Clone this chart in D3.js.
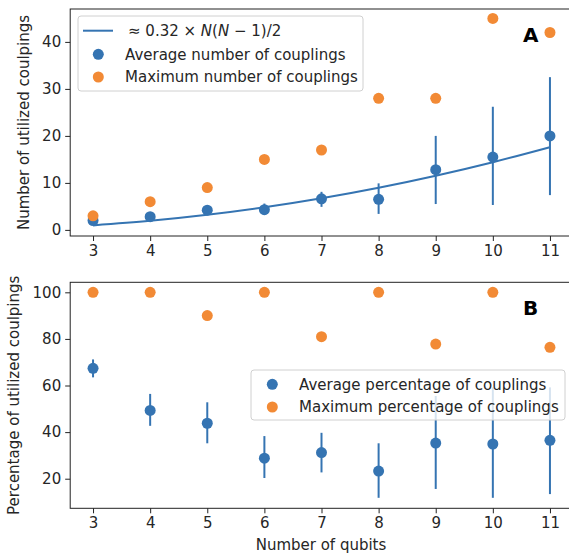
<!DOCTYPE html>
<html><head><meta charset="utf-8">
<script src="https://cdn.jsdelivr.net/npm/d3@7"></script>
<style>body{margin:0;background:#fff}svg{display:block}text{font-family:"DejaVu Sans",sans-serif;fill:#262626}</style>
</head><body><svg id="c" width="569" height="553"></svg>
<script>
const qubits = [3, 4, 5, 6, 7, 8, 9, 10, 11];
const fitCouplings = [0.96, 1.92, 3.2, 4.8, 6.72, 8.96, 11.52, 14.4, 17.6];
const avgCouplings = [2.0, 2.8, 4.2, 4.3, 6.6, 6.5, 12.8, 15.5, 20.0];
const avgCouplingsLow = [1.9, 2.6, 3.5, 3.2, 4.9, 3.4, 5.5, 5.3, 7.4];
const avgCouplingsHigh = [2.1, 3.4, 5.3, 5.6, 8.1, 9.9, 20.0, 26.2, 32.5];
const maxCouplings = [3, 6, 9, 15, 17, 28, 28, 45, 42];
const avgPercent = [67.4, 49.3, 43.8, 28.8, 31.2, 23.3, 35.3, 34.9, 36.5];
const avgPercentLow = [63.5, 42.7, 35.2, 20.3, 22.7, 11.8, 15.6, 11.8, 13.4];
const avgPercentHigh = [71.2, 56.4, 52.8, 38.3, 39.7, 35.2, 55.5, 59.2, 59.2];
const maxPercent = [100, 100, 90, 100, 80.95, 100, 77.8, 100, 76.4];
const topTicks = [0, 10, 20, 30, 40];
const bottomTicks = [20, 40, 60, 80, 100];

const BLUE = "#3574b2", ORANGE = "#f28a35";
const svg = d3.select("#c");
const FS = 15;

const x = d3.scaleLinear().domain([2.6, 11.4]).range([70.2, 572.8]);

function panel(opts) {
  const g = svg.append("g");
  const y = d3.scaleLinear().domain(opts.ydom).range(opts.yrange);
  const [yb, yt] = opts.yrange;
  const ya = g.append("g").attr("transform", `translate(${x.range()[0]},0)`)
    .call(d3.axisLeft(y).tickValues(opts.yticks).tickSize(5).tickPadding(4).tickFormat(d3.format("d")));
  ya.select(".domain").remove();
  ya.selectAll("line").attr("stroke", "#222").attr("stroke-width", 1);
  ya.selectAll("text").attr("font-size", FS).attr("font-family", "DejaVu Sans").attr("fill", "#262626");
  const xa = g.append("g").attr("transform", `translate(0,${yb})`)
    .call(d3.axisBottom(x).tickValues(qubits).tickSize(5).tickPadding(4).tickFormat(d3.format("d")));
  xa.select(".domain").remove();
  xa.selectAll("line").attr("stroke", "#222").attr("stroke-width", 1);
  xa.selectAll("text").attr("font-size", FS).attr("font-family", "DejaVu Sans").attr("fill", "#262626");
  g.append("rect").attr("x", x.range()[0]).attr("y", yt)
    .attr("width", x.range()[1] - x.range()[0]).attr("height", yb - yt)
    .attr("fill", "none").attr("stroke", "#222").attr("stroke-width", 1);
  if (opts.fit) {
    g.append("path").datum(qubits.map((q, i) => [q, opts.fit[i]]))
      .attr("d", d3.line().x(d => x(d[0])).y(d => y(d[1])).curve(d3.curveMonotoneX))
      .attr("fill", "none").attr("stroke", BLUE).attr("stroke-width", 2);
  }
  g.selectAll(".eb").data(qubits).enter().append("line")
    .attr("x1", d => x(d)).attr("x2", d => x(d))
    .attr("y1", (d, i) => y(opts.lo[i])).attr("y2", (d, i) => y(opts.hi[i]))
    .attr("stroke", BLUE).attr("stroke-width", 2);
  g.selectAll(".av").data(qubits).enter().append("circle")
    .attr("cx", d => x(d)).attr("cy", (d, i) => y(opts.avg[i])).attr("r", 5.5).attr("fill", BLUE);
  g.selectAll(".mx").data(qubits).enter().append("circle")
    .attr("cx", d => x(d)).attr("cy", (d, i) => y(opts.max[i])).attr("r", 5.5).attr("fill", ORANGE);
  g.append("text").attr("transform", `translate(${opts.ylx},${(yb + yt) / 2}) rotate(-90)`)
    .attr("text-anchor", "middle").attr("font-size", FS).text(opts.ylabel);
  g.append("text").attr("x", 523).attr("y", opts.letterY).attr("font-size", 20).attr("font-weight", "bold")
    .style("fill", "#000").text(opts.letter);
  return {g, y};
}

panel({ydom: [-1.3, 47], yrange: [236, 9], yticks: topTicks, fit: fitCouplings,
  lo: avgCouplingsLow, hi: avgCouplingsHigh, avg: avgCouplings, max: maxCouplings,
  ylabel: "Number of utilized coulpings", ylx: 29, letter: "A", letterY: 42});
panel({ydom: [7.3, 104.3], yrange: [508.3, 282.3], yticks: bottomTicks,
  lo: avgPercentLow, hi: avgPercentHigh, avg: avgPercent, max: maxPercent,
  ylabel: "Percentage of utilized coulpings", ylx: 19, letter: "B", letterY: 315});

svg.append("text").attr("x", 321).attr("y", 550).attr("text-anchor", "middle").attr("font-size", FS).text("Number of qubits");

const la = svg.append("g");
la.append("rect").attr("x", 78).attr("y", 16).attr("width", 285).attr("height", 75).attr("rx", 3)
  .attr("fill", "#fff").attr("fill-opacity", 0.8).attr("stroke", "#d0d0d0");
la.append("line").attr("x1", 83).attr("x2", 113).attr("y1", 30.7).attr("y2", 30.7).attr("stroke", BLUE).attr("stroke-width", 2);
const t1 = la.append("text").attr("x", 128).attr("y", 36).attr("font-size", FS);
t1.append("tspan").text("≈ 0.32 × ");
t1.append("tspan").attr("font-style", "italic").text("N");
t1.append("tspan").text("(");
t1.append("tspan").attr("font-style", "italic").text("N");
t1.append("tspan").text(" − 1)/2");
la.append("circle").attr("cx", 98.3).attr("cy", 54.3).attr("r", 5.5).attr("fill", BLUE);
la.append("text").attr("x", 125).attr("y", 59.5).attr("font-size", FS).text("Average number of couplings");
la.append("circle").attr("cx", 98.3).attr("cy", 77).attr("r", 5.5).attr("fill", ORANGE);
la.append("text").attr("x", 125).attr("y", 82.2).attr("font-size", FS).text("Maximum number of couplings");

const lb = svg.append("g");
lb.append("rect").attr("x", 251).attr("y", 370).attr("width", 314).attr("height", 50).attr("rx", 3)
  .attr("fill", "#fff").attr("fill-opacity", 0.8).attr("stroke", "#d0d0d0");
lb.append("circle").attr("cx", 272.3).attr("cy", 384.3).attr("r", 5.5).attr("fill", BLUE);
lb.append("text").attr("x", 299).attr("y", 389.5).attr("font-size", FS).text("Average percentage of couplings");
lb.append("circle").attr("cx", 272.3).attr("cy", 407).attr("r", 5.5).attr("fill", ORANGE);
lb.append("text").attr("x", 299).attr("y", 412.2).attr("font-size", FS).text("Maximum percentage of couplings");
</script></body></html>
